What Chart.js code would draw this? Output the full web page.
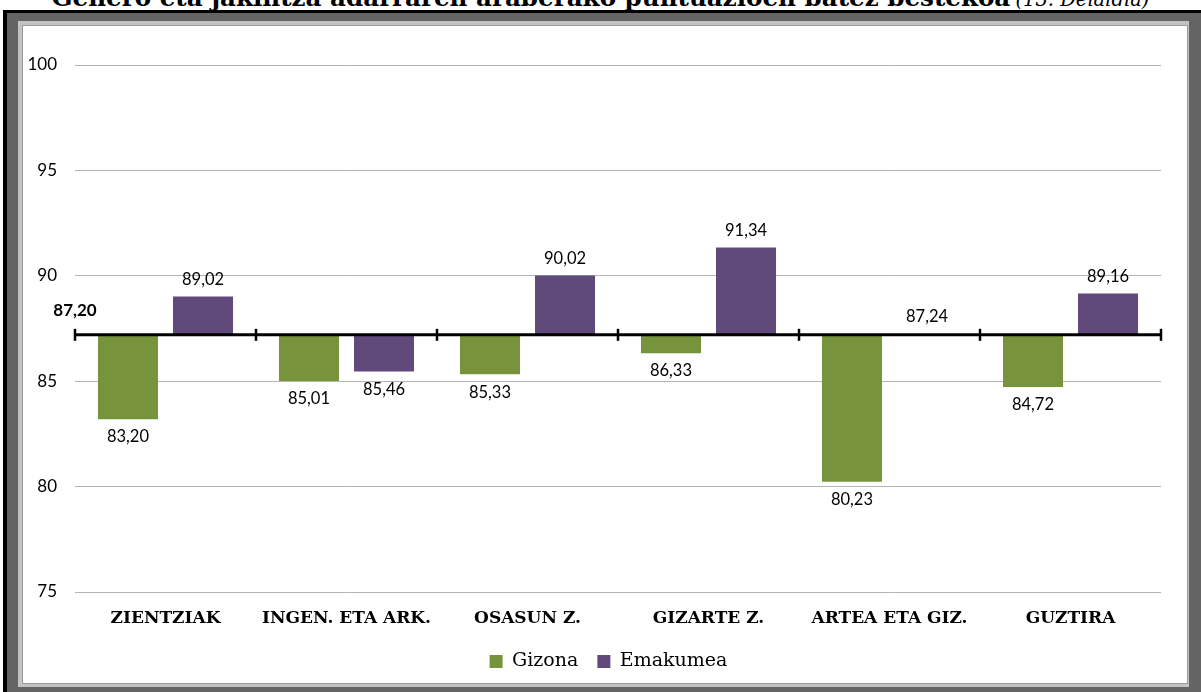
<!DOCTYPE html>
<html>
<head>
<meta charset="utf-8">
<script src="https://cdn.jsdelivr.net/npm/chart.js@4.4.1/dist/chart.umd.min.js"></script>
<style>
  html, body { margin:0; padding:0; background:#fff; overflow:hidden; }
  body { width:1201px; height:692px; position:relative; }
  #title { position:absolute; left:0; top:-15px; width:1201px; text-align:center; white-space:nowrap;
           font-family:"DejaVu Serif", serif; line-height:26px; color:#000; z-index:0; }
  #title b { font-size:24.6px; font-weight:bold; }
  #title i { font-size:19.5px; font-weight:normal; }
  .f { position:absolute; }
  #black { left:3px; top:10px; width:1300px; height:800px; background:#000; z-index:1; }
  #dark { left:7px; top:13px; width:1194px; height:679px; background:#646464; z-index:2; }
  #light { left:18px; top:21px; width:1171px; height:666px; background:#c3c3c3; z-index:3; }
  #white { left:22px; top:25px; width:1164px; height:657px; background:#fff; border:1px solid #9a9a9a; z-index:4; }
  #c { position:absolute; left:0; top:0; z-index:5; }
</style>
</head>
<body>
<div id="title"><b>Genero eta jakintza adarraren araberako puntuazioen batez bestekoa</b> <i>(13. Deialdia)</i></div>
<div class="f" id="black"></div>
<div class="f" id="dark"></div>
<div class="f" id="light"></div>
<div class="f" id="white"></div>
<canvas id="c" width="1201" height="692"></canvas>
<script>
const categories = ["ZIENTZIAK", "INGEN. ETA ARK.", "OSASUN Z.", "GIZARTE Z.", "ARTEA ETA GIZ.", "GUZTIRA"];
const gizona = [83.20, 85.01, 85.33, 86.33, 80.23, 84.72];
const emakumea = [89.02, 85.46, 90.02, 91.34, 87.24, 89.16];
const baseValue = 87.20;
const yTicks = [75, 80, 85, 90, 95, 100];

const fmt = v => v.toFixed(2).replace('.', ',');

const legendShift = {
  id: 'legendShift',
  afterLayout(chart) {
    if (chart.legend) { chart.legend.left = 56; }
  }
};

const baselinePlugin = {
  id: 'baseline',
  afterDatasetsDraw(chart) {
    const {ctx, chartArea, scales} = chart;
    const y = scales.y.getPixelForValue(baseValue);
    ctx.save();
    ctx.strokeStyle = '#000';
    ctx.lineWidth = 3;
    ctx.beginPath();
    ctx.moveTo(chartArea.left, y);
    ctx.lineTo(chartArea.right, y);
    ctx.stroke();
    ctx.lineWidth = 2.5;
    const n = categories.length;
    const w = (chartArea.right - chartArea.left) / n;
    for (let i = 0; i <= n; i++) {
      const x = Math.round(chartArea.left + i * w);
      ctx.beginPath();
      ctx.moveTo(x, y - 6);
      ctx.lineTo(x, y + 6);
      ctx.stroke();
    }
    ctx.fillStyle = '#000';
    ctx.font = 'bold 17px Lato';
    ctx.textAlign = 'center';
    ctx.textBaseline = 'middle';
    ctx.fillText(fmt(baseValue), chartArea.left, y - 24);
    ctx.font = '16.5px Lato';
    chart.data.datasets.forEach((ds, di) => {
      const meta = chart.getDatasetMeta(di);
      meta.data.forEach((el, i) => {
        const v = ds.values[i];
        const endPx = scales.y.getPixelForValue(v);
        const ly = v < baseValue ? endPx + 18 : endPx - 17;
        ctx.fillText(fmt(v), el.x, ly);
      });
    });
    ctx.restore();
  }
};

new Chart(document.getElementById('c'), {
  type: 'bar',
  data: {
    labels: categories,
    datasets: [
      { label: 'Gizona', values: gizona, data: gizona.map(v => [baseValue, v]),
        backgroundColor: '#77933c', borderWidth: 0,
        categoryPercentage: 0.829, barPercentage: 0.8 },
      { label: 'Emakumea', values: emakumea, data: emakumea.map(v => [baseValue, v]),
        backgroundColor: '#604a7b', borderWidth: 0,
        categoryPercentage: 0.829, barPercentage: 0.8 }
    ]
  },
  options: {
    responsive: false,
    animation: false,
    devicePixelRatio: 1,
    layout: { padding: { top: 65, left: 0, right: 40, bottom: 11 } },
    plugins: {
      tooltip: { enabled: false },
      legend: {
        position: 'bottom',
        labels: {
          boxWidth: 13, boxHeight: 13, padding: 19,
          color: '#000',
          font: { family: 'DejaVu Serif', size: 19 }
        }
      }
    },
    scales: {
      x: {
        grid: { display: false, drawTicks: false },
        border: { display: false },
        ticks: { color: '#000', padding: 16, font: { family: 'DejaVu Serif', size: 17, weight: 'bold' } },
        afterFit: s => { s.height = 41; }
      },
      y: {
        min: 75, max: 100,
        afterBuildTicks: s => { s.ticks = yTicks.map(v => ({ value: v })); },
        grid: { color: '#b4b4b4', lineWidth: 1, drawTicks: false },
        border: { display: false },
        ticks: { color: '#000', padding: 18, font: { family: 'Lato', size: 17 } },
        afterFit: s => { s.width = 75; }
      }
    }
  },
  plugins: [baselinePlugin, legendShift]
});
</script>
</body>
</html>
